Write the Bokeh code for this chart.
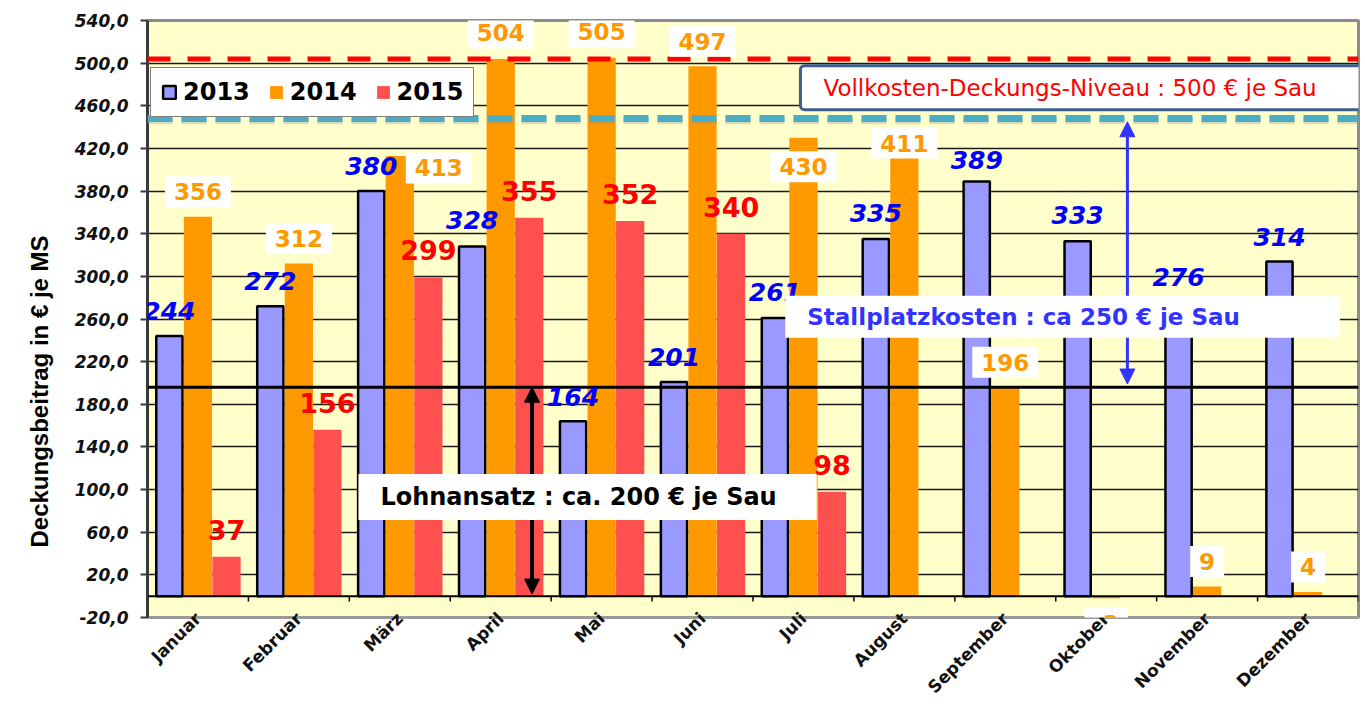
import math
from bokeh.plotting import figure
from bokeh.models import (Range1d, FixedTicker, Span, Label, Legend, LegendItem,
                          Arrow, NormalHead, ColumnDataSource, Title)
from bokeh.embed import file_html
from bokeh.resources import INLINE

# ---------------- data ----------------
months = ["Januar", "Februar", "März", "April", "Mai", "Juni", "Juli",
          "August", "September", "Oktober", "November", "Dezember"]
vals_2013 = [244, 272, 380, 328, 164, 201, 261, 335, 389, 333, 276, 314]
vals_2014 = [356, 312, 413, 504, 505, 497, 430, 411, 196, -2, 9, 4]
vals_2015 = [37, 156, 299, 355, 352, 340, 98]
series_names = ["2013", "2014", "2015"]
y_ticks = [-20, 20, 60, 100, 140, 180, 220, 260, 300, 340, 380, 420, 460, 500, 540]
y_tick_labels = ["-20,0", "20,0", "60,0", "100,0", "140,0", "180,0", "220,0", "260,0",
                 "300,0", "340,0", "380,0", "420,0", "460,0", "500,0", "540,0"]
level_vollkosten = 504
level_stallplatz = 448
level_lohn = 196
y_title = "Deckungsbeitrag in € je MS"
txt_vollkosten = "Vollkosten-Deckungs-Niveau : 500 € je Sau"
txt_stallplatz = "Stallplatzkosten : ca 250 € je Sau"
txt_lohn = "Lohnansatz : ca. 200 € je Sau"

# ---------------- styles ----------------
C13, C14, C15 = "#9999FF", "#FF9900", "#FF5050"
FONT = "DejaVu Sans"
BAR_OFF = 0.283
BAR_W = 0.28
# label offsets (screen px) for the individual labels
lab13_dy = [25, 25, 25, 27, 24, 25, 26, 26, 21, 26, 25, 24]
lab14_dx = [0, 0, 39, 0, 0, 0, 0, 0, 0, 0, 0, 0]
lab14_dy = [25, 25, -12, 26, 26, 25, -29, 15, 25, -25, 25, 25]

centers = [i + 0.5 for i in range(len(months))]

p = figure(width=1363, height=711, x_range=Range1d(0, 12), y_range=Range1d(-20, 540),
           output_backend="svg", toolbar_location=None,
           min_border_left=147, min_border_right=5, min_border_top=20, min_border_bottom=94)
p.background_fill_color = "#FFFFCC"
p.border_fill_color = "white"
p.outline_line_color = "#8C8C8C"
p.outline_line_width = 3

# grid
p.xgrid.visible = False
p.ygrid.ticker = FixedTicker(ticks=[t for t in y_ticks if 0 < t < 540])
p.ygrid.grid_line_color = "#1A1A1A"
p.ygrid.grid_line_width = 1.3

# y axis
p.yaxis.ticker = FixedTicker(ticks=y_ticks)
p.yaxis.major_label_overrides = dict(zip(y_ticks, y_tick_labels))
p.yaxis.major_label_text_font = FONT
p.yaxis.major_label_text_font_style = "bold italic"
p.yaxis.major_label_text_font_size = "17px"
p.yaxis.major_label_text_color = "#111111"
p.yaxis.axis_line_color = "#3A3A3A"
p.yaxis.axis_line_width = 3
p.yaxis.major_tick_line_color = "#3A3A3A"
p.yaxis.major_tick_line_width = 2
p.yaxis.major_tick_out = 7
p.yaxis.major_tick_in = 0
p.yaxis.minor_tick_line_color = None
p.yaxis.major_label_standoff = 12

# x axis
p.xaxis.ticker = FixedTicker(ticks=centers)
p.xaxis.major_label_overrides = dict(zip(centers, months))
p.xaxis.major_label_orientation = math.pi / 4
p.xaxis.major_label_text_font = FONT
p.xaxis.major_label_text_font_style = "bold"
p.xaxis.major_label_text_font_size = "17px"
p.xaxis.major_label_text_color = "#111111"
p.xaxis.major_tick_line_color = None
p.xaxis.minor_tick_line_color = None
p.xaxis.axis_line_color = "#9A9A9A"
p.xaxis.axis_line_width = 3
p.xaxis.major_label_standoff = -8

# bars
src13 = ColumnDataSource(dict(x=[c - BAR_OFF for c in centers], top=vals_2013))
src14 = ColumnDataSource(dict(x=list(centers), top=vals_2014))
src15 = ColumnDataSource(dict(x=[c + BAR_OFF for c in centers[:len(vals_2015)]], top=vals_2015))
r13 = p.vbar(x="x", top="top", bottom=0, width=BAR_W - 0.02, source=src13,
             fill_color=C13, line_color="black", line_width=2.5)
r14 = p.vbar(x="x", top="top", bottom=0, width=BAR_W, source=src14,
             fill_color=C14, line_color=None)
r15 = p.vbar(x="x", top="top", bottom=0, width=BAR_W, source=src15,
             fill_color=C15, line_color=None)

# zero line and category tick marks
p.add_layout(Span(location=0, dimension="width", line_color="black", line_width=2))
p.segment(x0=list(range(1, 13)), y0=[0] * 12, x1=list(range(1, 13)), y1=[-5] * 12,
          line_color="black", line_width=1.5)

# reference lines
p.add_layout(Span(location=level_vollkosten, dimension="width", line_color="#FF0000",
                  line_width=5, line_dash="23 17"))
p.add_layout(Span(location=level_stallplatz - 2, dimension="width", line_color="#999999",
                  line_alpha=0.35, line_width=7, line_dash="25 9"))
p.add_layout(Span(location=level_stallplatz, dimension="width", line_color="#4BACC6",
                  line_width=7, line_dash="25 9"))
p.add_layout(Span(location=level_lohn, dimension="width", line_color="black", line_width=3))

# arrows
p.add_layout(Arrow(start=NormalHead(size=15, fill_color="black", line_color="black"),
                   end=NormalHead(size=15, fill_color="black", line_color="black"),
                   x_start=3.81, y_start=2, x_end=3.81, y_end=level_lohn,
                   line_color="black", line_width=4))
p.add_layout(Arrow(start=NormalHead(size=15, fill_color="#3333FF", line_color="#3333FF"),
                   end=NormalHead(size=15, fill_color="#3333FF", line_color="#3333FF"),
                   x_start=9.71, y_start=level_lohn + 3, x_end=9.71, y_end=level_stallplatz - 3,
                   line_color="#3333FF", line_width=3))

# data labels
for i, v in enumerate(vals_2013):
    p.add_layout(Label(x=centers[i] - BAR_OFF, y=v, text=str(v), y_offset=lab13_dy[i],
                       text_align="center", text_baseline="middle", text_font=FONT,
                       text_font_style="bold italic", text_font_size="25px",
                       text_color="#0000FF"))
for i, v in enumerate(vals_2015):
    p.add_layout(Label(x=centers[i] + BAR_OFF, y=v, text=str(v), y_offset=27,
                       text_align="center", text_baseline="middle", text_font=FONT,
                       text_font_style="bold", text_font_size="27px",
                       text_color="#FF0000"))
for i, v in enumerate(vals_2014):
    p.add_layout(Label(x=centers[i], y=v, text=str(v), x_offset=lab14_dx[i], y_offset=lab14_dy[i],
                       text_align="center", text_baseline="middle", text_font=FONT,
                       text_font_style="bold", text_font_size="23px",
                       text_color=C14, background_fill_color="white",
                       padding=dict(left=9, right=9, top=7, bottom=7)))

# text boxes
p.add_layout(Label(x=6.47, y=477, text=txt_vollkosten, text_align="left", text_baseline="middle",
                   text_font=FONT, text_font_size="23px", text_color="#FF0000",
                   background_fill_color="white", border_line_color="#3B5F8E",
                   border_line_width=3, border_radius=4,
                   padding=dict(left=23, right=67, top=9, bottom=9)))
p.add_layout(Label(x=6.32, y=262, text=txt_stallplatz, text_align="left", text_baseline="middle",
                   text_font=FONT, text_font_style="bold", text_font_size="23px",
                   text_color="#3333FF", background_fill_color="white",
                   padding=dict(left=22, right=100, top=8, bottom=8)))
p.add_layout(Label(x=2.09, y=93, text=txt_lohn, text_align="left", text_baseline="middle",
                   text_font=FONT, text_font_style="bold", text_font_size="24px",
                   text_color="black", background_fill_color="white",
                   padding=dict(left=22, right=40, top=9, bottom=9)))

# y axis title (as a side title, placed like the original)
p.add_layout(Title(text=y_title, align="left", offset=70, standoff=38,
                   text_font="Liberation Sans", text_font_style="bold",
                   text_font_size="24px", text_color="black"), "left")

# legend
legend = Legend(items=[LegendItem(label=series_names[0], renderers=[r13]),
                       LegendItem(label=series_names[1], renderers=[r14]),
                       LegendItem(label=series_names[2], renderers=[r15])],
                location=(3, 500), orientation="horizontal",
                label_text_font=FONT, label_text_font_style="bold",
                label_text_font_size="24px", label_text_color="black",
                glyph_width=16, glyph_height=16, spacing=18, padding=10,
                label_standoff=6, margin=0,
                border_line_color="black", border_line_width=1.5,
                background_fill_color="white", background_fill_alpha=1)
p.add_layout(legend)

open("out.html", "w").write(file_html(p, INLINE))
